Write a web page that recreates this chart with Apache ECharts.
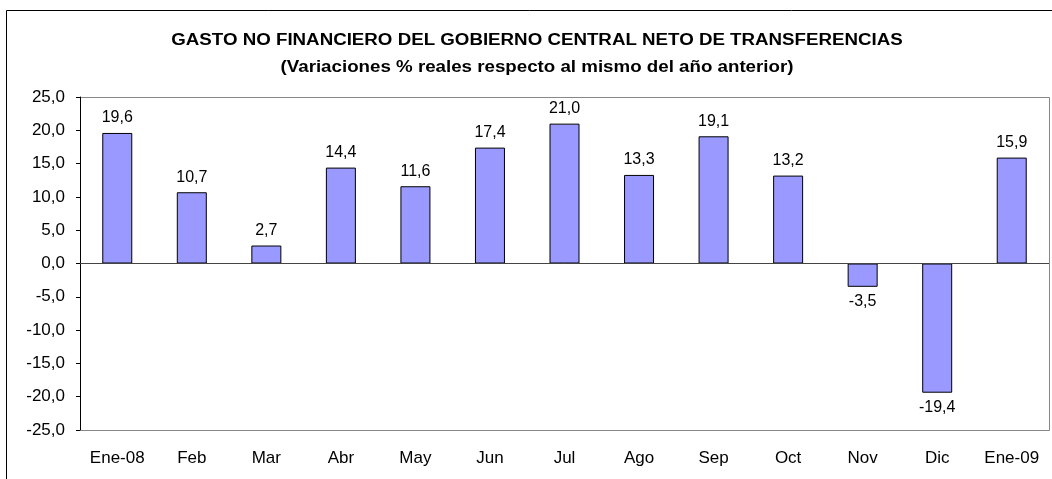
<!DOCTYPE html>
<html><head><meta charset="utf-8">
<script src="https://cdn.jsdelivr.net/npm/echarts@6/dist/echarts.min.js"></script>
<style>html,body{margin:0;padding:0;background:#fff}#c{width:1052px;height:479px}</style>
</head><body><div id="c"></div>
<script>
const categories = ['Ene-08','Feb','Mar','Abr','May','Jun','Jul','Ago','Sep','Oct','Nov','Dic','Ene-09'];
const values = [19.6,10.7,2.7,14.4,11.6,17.4,21.0,13.3,19.1,13.2,-3.5,-19.4,15.9];
const titleLines = ['GASTO NO FINANCIERO DEL GOBIERNO CENTRAL NETO DE TRANSFERENCIAS','(Variaciones % reales respecto al mismo del año anterior)'];
const fmt = v => v.toFixed(1).replace('.', ',');
const chart = echarts.init(document.getElementById('c'));
const F = '"Liberation Sans", Arial, sans-serif';
chart.setOption({
  animation:false,
  textStyle:{fontFamily:F},
  graphic:[
    {type:'rect',shape:{x:6.5,y:10.5,width:1100,height:500},style:{fill:'none',stroke:'#000',lineWidth:1},silent:true,z:-1},
    {type:'rect',shape:{x:80.5,y:97.5,width:969,height:333},style:{fill:'none',stroke:'#888',lineWidth:1},silent:true,z:-1},
    {type:'group',x:537,y:33,scaleX:1.17,children:[
      {type:'text',x:0,y:0,style:{text:titleLines[0],font:'bold 16px '+F,fill:'#000',align:'center',verticalAlign:'top'}}]},
    {type:'group',x:537,y:60,scaleX:1.17,children:[
      {type:'text',x:0,y:0,style:{text:titleLines[1],font:'bold 16px '+F,fill:'#000',align:'center',verticalAlign:'top'}}]}
  ],
  grid:{left:80,top:97,width:969,height:333,containLabel:false},
  xAxis:{type:'category',data:categories,position:'bottom',
    axisLine:{show:false},axisTick:{show:false},
    axisLabel:{color:'#000',fontSize:17,margin:20,fontFamily:F}},
  yAxis:{type:'value',min:-25,max:25,interval:5,
    axisLine:{show:true,onZero:false,lineStyle:{color:'#000'}},
    axisTick:{show:true,length:4,lineStyle:{color:'#000'}},
    splitLine:{show:false},
    axisLabel:{color:'#000',fontSize:17,margin:15,formatter:v=>fmt(v),fontFamily:F}},
  series:[{type:'bar',data:values,barWidth:30,
    itemStyle:{color:'#9999FF',borderColor:'#000',borderWidth:1},
    label:{show:true,position:'outside',color:'#000',fontSize:16,distance:7,formatter:p=>fmt(p.value),fontFamily:F},
    markLine:{silent:true,symbol:'none',label:{show:false},lineStyle:{color:'#444',type:'solid',width:1},data:[{yAxis:0}]}
  }]
});
</script></body></html>
